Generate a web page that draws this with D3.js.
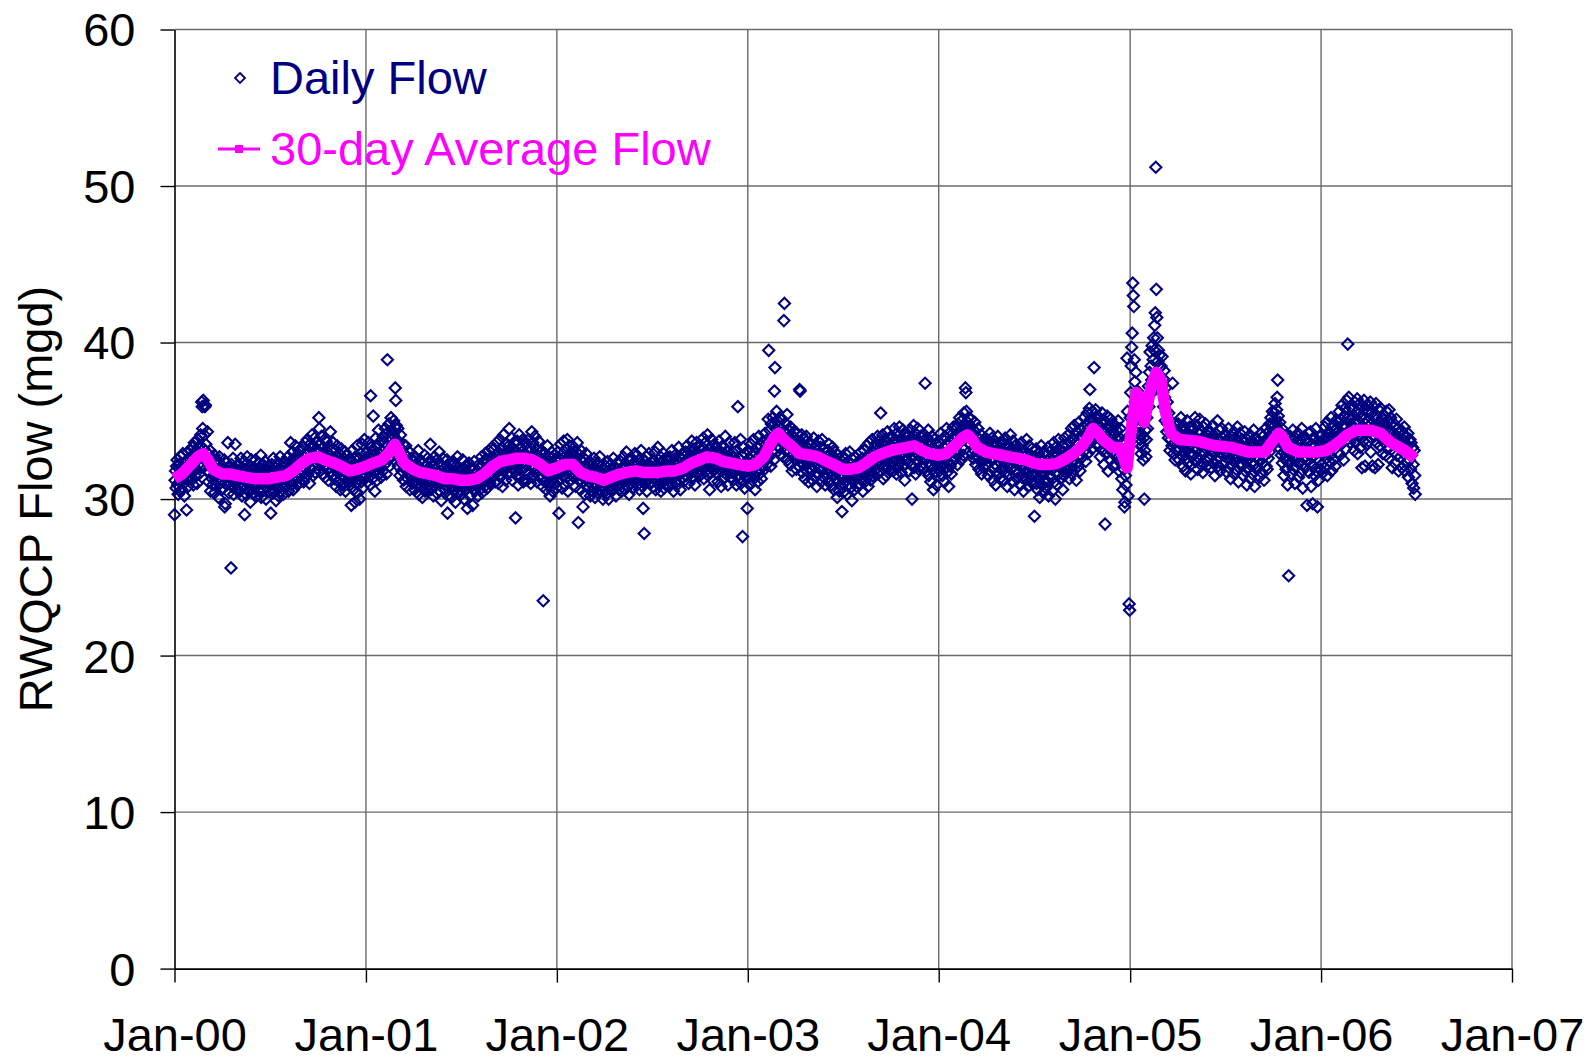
<!DOCTYPE html>
<html>
<head>
<meta charset="utf-8">
<script src="https://cdn.jsdelivr.net/npm/d3@7"></script>
<style>
  body { margin: 0; background: #fff; }
  text { font-family: "Liberation Sans", Arial, sans-serif; }
</style>
</head>
<body>
<div id="chart"></div>
<script>
var svgWidth = 1593;
var svgHeight = 1061;

var margin = {
  top: 29.5,
  right: 81,
  bottom: 92.4,
  left: 174.5
};

var width = svgWidth - margin.left - margin.right;
var height = svgHeight - margin.top - margin.bottom;

// axis ticks
var yTicks = [0, 10, 20, 30, 40, 50, 60];
var xTickDates = ["2000-01-01", "2001-01-01", "2002-01-01", "2003-01-01", "2004-01-01", "2005-01-01", "2006-01-01", "2007-01-01"];
var xTickLabels = ["Jan-00", "Jan-01", "Jan-02", "Jan-03", "Jan-04", "Jan-05", "Jan-06", "Jan-07"];

// daily flow, tenths of mgd, one string per month (Jan..Dec)
var flow2000 = [
  "290 312 318 307 321 325 309 303 316 322 311 305 327 318 306 314 329 320 310 302 317 324 313 293 319 330 308 322 326 315 331",
  "318 327 312 333 324 309 321 336 315 328 319 331 310 325 338 322 316 334 327 341 320 362 359 345 363 332 341 359 360",
  "335 324 318 343 329 311 322 317 331 305 320 326 313 309 321 315 328 304 319 312 325 308 316 322 301 314 327 310 318 306 320",
  "312 321 307 318 325 295 297 314 323 309 316 336 311 304 320 313 317 256 322 308 315 326 303 319 312 335 310 317 306 321",
  "318 309 322 313 305 317 326 311 302 320 315 308 324 290 316 312 303 319 327 310 314 306 321 317 298 313 325 309 318 304 316",
  "320 307 314 325 311 302 318 316 309 323 305 312 319 328 301 315 310 322 306 317 313 324 308 300 319 314 311 321 305 316",
  "309 318 291 315 322 307 313 326 304 317 311 320 299 314 308 323 316 302 319 312 327 305 315 321 310 318 303 324 313 309 317",
  "316 308 322 313 327 305 319 311 324 336 315 309 321 330 306 318 325 312 334 320 314 328 309 322 317 331 311 326 319 323 315",
  "325 318 333 311 327 320 336 314 329 322 338 316 331 324 310 335 327 319 332 341 321 315 334 328 339 317 330 323 336 326",
  "331 322 352 345 318 335 327 340 324 316 333 329 321 338 314 326 337 319 330 325 312 334 320 328 343 317 331 323 315 336 321",
  "326 313 331 320 308 327 334 317 324 311 329 321 306 318 332 315 323 309 326 319 314 330 305 322 316 328 311 320 313 325",
  "317 309 325 296 320 331 312 306 323 315 298 327 318 310 334 304 321 313 326 300 319 329 311 316 335 307 322 314 338 319 325"
];
var flow2001 = [
  "322 315 330 311 327 336 318 324 309 366 333 320 313 328 353 317 331 305 325 339 319 312 334 326 344 316 329 321 337 314 323",
  "331 318 340 325 336 322 345 329 316 342 389 334 326 348 321 339 331 352 327 344 335 341 350 332 346 371 363 347",
  "338 329 345 321 336 326 315 341 323 332 318 327 335 312 329 320 324 334 308 319 327 313 322 317 330 306 321 314 326 310 319",
  "324 311 318 306 327 315 320 309 322 314 331 303 317 312 325 308 319 316 301 323 313 310 328 305 318 321 307 315 326 312",
  "309 320 313 335 306 318 324 311 316 302 321 327 308 315 319 304 325 312 317 310 330 305 314 322 299 318 311 326 307 316 313",
  "320 306 314 309 325 291 317 312 303 319 315 322 308 301 316 311 324 305 318 313 298 321 309 315 327 304 312 317 306 319",
  "314 303 319 310 325 307 316 300 312 321 306 318 313 294 317 309 323 311 302 315 320 308 314 296 319 311 324 305 316 310 313",
  "309 318 302 315 322 311 306 320 313 327 304 317 310 324 316 308 329 319 312 325 307 321 315 331 318 310 326 322 314 333 320",
  "326 315 332 319 311 328 322 336 317 324 310 330 321 338 314 327 319 333 308 325 341 318 329 322 312 335 320 327 316 331",
  "334 345 322 317 330 325 339 312 328 320 336 318 331 288 324 315 337 322 309 329 341 319 326 333 314 330 323 338 311 327 320",
  "329 318 335 322 312 331 326 338 316 324 333 310 327 343 320 336 314 329 321 340 317 325 332 311 328 319 337 323 315 330",
  "326 313 331 319 308 235 322 317 329 311 324 306 320 334 315 309 327 318 302 323 312 330 316 305 321 314 328 310 319 325 307"
];
var flow2002 = [
  "324 311 330 317 291 326 320 335 313 322 307 329 318 337 315 324 309 332 321 314 338 305 327 319 334 312 325 316 330 320 328",
  "327 314 333 319 325 308 330 317 336 322 285 312 328 320 306 331 315 324 311 295 318 326 303 321 313 329 309 317",
  "320 307 316 311 324 302 318 313 309 322 305 317 326 310 301 315 319 308 323 312 304 318 311 327 306 314 321 309 316 300 319",
  "306 318 311 321 303 315 309 324 312 300 317 313 308 322 314 305 319 310 326 307 316 311 320 302 315 323 309 317 313 306",
  "318 309 324 313 305 320 316 327 311 319 306 322 314 330 308 317 312 325 303 319 315 321 310 326 313 307 318 323 312 329 316",
  "322 313 328 309 319 316 325 306 318 312 331 315 321 308 294 317 278 324 311 319 327 305 316 322 313 329 310 318 314 321",
  "311 323 316 308 325 313 319 330 306 317 322 312 333 315 309 320 314 327 305 318 324 311 316 329 307 321 313 326 318 310 322",
  "324 313 319 308 327 316 321 310 331 317 323 305 320 314 328 311 318 325 309 322 316 333 312 320 306 326 317 319 329 314 323",
  "318 327 312 330 321 315 334 319 326 310 323 331 316 328 322 337 313 325 318 332 320 309 329 324 336 317 326 321 333 315",
  "328 319 334 322 316 331 325 339 313 327 320 336 318 330 324 341 315 329 322 306 333 317 326 338 321 312 330 324 335 319 328",
  "322 333 316 328 311 325 337 319 330 323 308 327 318 334 321 313 329 324 340 316 326 320 331 309 325 336 317 322 328 314",
  "325 317 330 312 327 321 336 318 324 309 331 320 359 315 326 313 322 338 310 328 319 276 333 316 321 307 329 314 323 318 294"
];
var flow2003 = [
  "320 331 314 326 309 322 335 317 328 312 324 338 315 321 306 329 318 333 323 311 327 340 316 325 319 334 313 330 322 337 326",
  "331 319 342 326 335 322 338 329 351 395 327 344 333 321 348 336 330 352 339 325 369 384 345 337 356 341 350 334",
  "347 333 352 338 329 345 336 351 340 327 414 425 343 331 348 336 354 325 339 344 330 337 322 346 333 341 318 335 328 343 332",
  "339 325 334 319 342 330 327 336 321 370 369 332 324 341 317 335 328 322 338 313 331 326 340 318 333 323 311 329 336 320",
  "324 335 318 330 312 327 339 321 329 315 334 326 308 331 323 337 316 328 320 333 311 325 338 319 327 314 332 322 309 330 324",
  "327 316 331 320 335 312 325 318 329 309 322 333 315 326 306 321 330 313 324 317 301 328 311 319 305 323 316 314 308 292",
  "321 310 326 314 305 318 329 312 320 303 316 324 309 317 330 307 322 313 299 319 325 311 316 306 327 314 320 308 323 315 318",
  "316 324 309 321 330 313 318 326 305 322 317 331 311 325 319 334 314 327 308 323 336 318 329 312 326 321 338 315 330 324 333",
  "327 335 319 331 324 340 316 329 337 322 333 355 318 330 326 341 313 334 321 338 328 315 336 324 343 320 331 327 339 318",
  "334 322 340 327 336 318 331 345 325 338 329 316 342 333 320 337 328 346 323 335 317 339 330 326 344 321 336 312 341 328 334",
  "336 325 341 329 318 338 331 344 322 335 300 339 327 347 320 333 342 316 330 337 324 345 328 319 336 332 340 321 334 326",
  "329 337 320 334 341 374 325 332 318 339 327 344 315 330 322 336 311 328 340 319 333 306 326 338 317 331 323 309 335 320 327"
];
var flow2004 = [
  "325 336 318 331 342 322 329 315 338 326 333 311 340 320 327 345 317 334 324 308 337 329 321 343 316 332 339 324 346 330 335",
  "338 326 345 331 340 322 348 335 329 352 337 344 325 350 333 341 328 355 339 346 371 368 356 343 349 336 352 340 345",
  "347 335 351 329 342 338 326 344 331 349 336 322 340 333 327 345 330 319 338 334 324 341 316 332 328 337 320 335 325 339 330",
  "333 322 338 327 315 336 329 342 318 331 325 339 312 334 326 320 337 330 309 328 335 321 340 317 332 324 313 336 327 319",
  "331 320 336 324 312 329 339 317 333 326 308 335 322 330 315 327 341 319 332 311 325 337 321 328 306 334 318 326 330 313 323",
  "328 317 333 321 309 326 336 314 330 322 305 331 319 327 312 324 338 316 329 308 323 334 318 325 311 320 332 315 326 310",
  "318 289 327 315 332 310 324 306 321 329 313 301 326 317 334 309 320 325 304 316 330 312 323 307 328 319 311 333 302 322 315",
  "326 314 331 319 305 328 322 336 311 324 300 333 317 329 309 325 338 316 321 331 313 327 319 334 306 323 330 315 339 320 326",
  "322 334 318 329 341 325 313 337 328 320 345 316 332 339 324 347 319 330 336 312 343 327 335 321 349 333 318 340 326 344",
  "339 327 346 334 352 331 341 324 348 337 355 329 345 340 358 370 336 351 343 332 356 347 339 384 350 344 357 335 353 342 348",
  "346 334 352 339 327 349 341 355 331 344 336 322 350 284 343 337 329 353 340 318 347 333 345 325 351 338 330 344 321 348",
  "341 329 347 335 322 344 338 326 350 332 318 339 345 324 331 313 336 306 327 319 295 298 315 309 330 390 356 302 340 233 229"
];
var flow2005 = [
  "352 368 385 397 406 438 430 423 389 375 362 381 356 347 369 342 358 335 351 338 346 329 341 334 352 325 339 300 331 344 327",
  "338 352 345 366 372 359 381 394 367 385 376 398 370 389 403 395 411 419 512 434 416 403 388 395 379 392 384 371",
  "385 372 391 368 377 359 382 365 350 371 356 343 362 348 339 355 344 331 350 338 347 334 374 342 329 348 336 325 344 332 339",
  "343 331 348 336 325 342 339 352 328 345 334 321 347 337 330 344 318 339 326 350 333 323 341 329 346 335 316 338 327 344",
  "340 328 345 333 352 324 338 331 347 319 336 342 326 351 334 322 343 330 339 317 346 329 337 325 348 332 321 341 335 327 344",
  "338 326 343 331 320 340 335 347 323 336 329 315 342 332 325 338 350 321 334 327 344 318 337 330 345 322 339 328 333 341",
  "336 324 341 329 317 338 333 345 320 334 326 313 340 331 322 337 328 343 316 335 325 339 319 332 346 327 311 336 330 342 323",
  "333 321 338 326 315 336 330 343 318 332 324 309 338 328 320 335 326 341 313 331 323 337 316 329 344 322 308 334 327 339 319",
  "332 320 337 325 314 335 329 342 317 331 323 340 327 312 336 328 345 321 333 319 338 326 343 330 348 334 352 339 345 356",
  "348 336 355 342 361 350 339 357 365 376 353 344 337 349 332 341 328 345 323 338 330 315 334 326 340 319 331 324 309 336 251",
  "335 323 340 328 316 337 331 344 319 333 325 310 339 328 321 336 327 342 314 332 324 338 317 330 345 322 307 334 326 340",
  "333 320 338 325 296 336 329 342 317 331 323 343 308 335 327 297 339 321 334 315 330 345 318 326 295 337 312 333 324 340 319"
];
var flow2006 = [
  "336 322 341 329 317 338 333 346 320 334 326 349 315 339 331 343 324 337 328 352 318 340 333 347 325 338 344 321 350 336 342",
  "345 330 349 337 356 328 342 351 335 360 339 347 325 353 341 358 332 346 363 338 399 352 365 344 336 359 348 340",
  "352 339 358 345 331 362 348 336 355 342 364 329 350 357 340 361 333 353 346 320 359 344 337 363 351 321 348 356 335 360 343",
  "350 337 356 343 362 330 348 355 321 345 359 340 352 320 347 361 336 353 344 322 357 341 349 334 358 345 338 352 329 347",
  "348 336 353 341 328 356 345 332 350 339 357 326 344 352 337 343 320 349 335 330 346 323 341 336 351 328 339 345 318 337 342",
  "338 327 344 332 320 341 335 329 346 318 336 331 340 323 334 342 314 330 325 338 319 336 328 310 333 322 307 331 315 303"
];
var flowYears = [2000, 2001, 2002, 2003, 2004, 2005, 2006];
var flowByYear = [flow2000, flow2001, flow2002, flow2003, flow2004, flow2005, flow2006];

// 30-day average flow (mgd)
var avgDates = [
  "2000-01-01", "2000-01-15", "2000-02-01", "2000-02-15", "2000-02-25", "2000-03-05", "2000-03-15", "2000-04-01", "2000-04-15", "2000-05-01",
  "2000-05-15", "2000-06-01", "2000-06-15", "2000-07-01", "2000-07-15", "2000-08-01", "2000-08-15", "2000-09-01", "2000-09-15", "2000-10-01",
  "2000-10-15", "2000-11-01", "2000-11-15", "2000-12-01", "2000-12-15",
  "2001-01-01", "2001-01-15", "2001-02-01", "2001-02-15", "2001-02-25", "2001-03-05", "2001-03-15", "2001-04-01", "2001-04-15", "2001-05-01",
  "2001-05-15", "2001-06-01", "2001-06-15", "2001-07-01", "2001-07-15", "2001-08-01", "2001-08-15", "2001-09-01", "2001-09-15", "2001-10-01",
  "2001-10-15", "2001-11-01", "2001-11-15", "2001-12-01", "2001-12-15",
  "2002-01-01", "2002-01-15", "2002-02-01", "2002-02-15", "2002-03-01", "2002-03-15", "2002-04-01", "2002-04-15", "2002-05-01", "2002-05-15",
  "2002-06-01", "2002-06-15", "2002-07-01", "2002-07-15", "2002-08-01", "2002-08-15", "2002-09-01", "2002-09-15", "2002-10-01", "2002-10-15",
  "2002-11-01", "2002-11-15", "2002-12-01", "2002-12-15",
  "2003-01-01", "2003-01-15", "2003-02-01", "2003-02-10", "2003-02-20", "2003-03-01", "2003-03-10", "2003-03-25", "2003-04-10", "2003-05-01",
  "2003-05-15", "2003-06-01", "2003-06-15", "2003-07-01", "2003-07-15", "2003-08-01", "2003-08-15", "2003-09-01", "2003-09-15", "2003-10-01",
  "2003-10-15", "2003-11-01", "2003-11-15", "2003-12-01", "2003-12-15",
  "2004-01-01", "2004-01-15", "2004-02-01", "2004-02-15", "2004-02-25", "2004-03-05", "2004-03-15", "2004-04-01", "2004-04-15", "2004-05-01",
  "2004-05-15", "2004-06-01", "2004-06-15", "2004-07-01", "2004-07-15", "2004-08-01", "2004-08-15", "2004-09-01", "2004-09-15", "2004-10-01",
  "2004-10-12", "2004-10-22", "2004-11-01", "2004-11-10", "2004-11-29", "2004-12-12", "2004-12-20", "2004-12-26",
  "2005-01-05", "2005-01-13", "2005-01-20", "2005-01-28", "2005-02-10", "2005-02-20", "2005-03-01", "2005-03-10", "2005-03-20", "2005-04-05",
  "2005-05-10", "2005-06-01", "2005-06-15", "2005-07-15", "2005-08-15", "2005-09-15", "2005-09-28", "2005-10-12", "2005-10-18", "2005-10-30",
  "2005-11-20", "2005-12-22",
  "2006-01-10", "2006-01-25", "2006-02-10", "2006-02-20", "2006-03-10", "2006-04-05", "2006-04-25", "2006-05-15", "2006-06-10", "2006-06-30"
];
var avgValues = [
  31.3, 31.6, 32.2, 32.7, 32.9, 32.5, 31.9, 31.6, 31.6, 31.5,
  31.4, 31.3, 31.3, 31.3, 31.4, 31.5, 31.8, 32.3, 32.6, 32.7,
  32.5, 32.3, 32.1, 31.8, 31.9,
  32.1, 32.3, 32.5, 33.0, 33.5, 33.0, 32.3, 31.9, 31.7, 31.6,
  31.5, 31.3, 31.3, 31.2, 31.2, 31.3, 31.6, 32.1, 32.4, 32.5,
  32.6, 32.6, 32.5, 32.2, 31.8,
  32.0, 32.2, 32.2, 31.7, 31.5, 31.4, 31.2, 31.4, 31.6, 31.7,
  31.8, 31.7, 31.7, 31.7, 31.8, 31.8, 32.0, 32.3, 32.5, 32.7,
  32.6, 32.4, 32.3, 32.2,
  32.1, 32.2, 32.7, 33.3, 33.9, 34.2, 33.8, 33.4, 32.9, 32.8,
  32.7, 32.4, 32.2, 31.9, 31.9, 32.0, 32.3, 32.7, 32.9, 33.1,
  33.2, 33.3, 33.4, 33.1, 32.9,
  32.8, 32.9, 33.4, 33.9, 34.1, 33.8, 33.3, 33.0, 32.9, 32.8,
  32.7, 32.6, 32.5, 32.3, 32.2, 32.2, 32.3, 32.6, 32.9, 33.4,
  33.9, 34.5, 34.2, 33.8, 33.3, 33.3, 32.6, 32.0,
  35.0, 36.8, 36.5, 34.9, 37.2, 38.1, 37.6, 35.5, 34.2, 33.8,
  33.7, 33.5, 33.4, 33.3, 33.0, 33.0, 33.6, 34.2, 34.0, 33.3,
  33.0, 33.0,
  33.1, 33.4, 33.8, 34.1, 34.4, 34.4, 34.2, 33.6, 33.1, 32.6
];

var parseDate = d3.timeParse("%Y-%m-%d");

// build daily records from the month strings
var dailyData = [];
flowByYear.forEach(function(months, yi) {
  months.forEach(function(str, m) {
    str.trim().split(/\s+/).forEach(function(v, i) {
      dailyData.push({ date: new Date(flowYears[yi], m, i + 1), flow: +v / 10 });
    });
  });
});

var avgData = avgDates.map(function(d, i) {
  return { date: parseDate(d), flow: avgValues[i] };
});

var svg = d3.select("#chart")
  .append("svg")
  .attr("width", svgWidth)
  .attr("height", svgHeight);

var chartGroup = svg.append("g")
  .attr("transform", `translate(${margin.left}, ${margin.top})`);

var xTimeScale = d3.scaleTime()
  .domain([parseDate("2000-01-01"), parseDate("2007-01-01")])
  .range([0, width]);

var yLinearScale = d3.scaleLinear()
  .domain([0, 60])
  .range([height, 0]);

var gridColor = "#6a6a6a";
var fontSize = "47px";

// horizontal gridlines (top one doubles as the frame)
chartGroup.append("g")
  .selectAll("line")
  .data(yTicks.filter(d => d > 0))
  .enter()
  .append("line")
  .attr("x1", 0)
  .attr("x2", width)
  .attr("y1", d => yLinearScale(d))
  .attr("y2", d => yLinearScale(d))
  .attr("stroke", gridColor)
  .attr("stroke-width", 1.4);

// vertical gridlines
chartGroup.append("g")
  .selectAll("line")
  .data(xTickDates.slice(1))
  .enter()
  .append("line")
  .attr("x1", d => xTimeScale(parseDate(d)))
  .attr("x2", d => xTimeScale(parseDate(d)))
  .attr("y1", 0)
  .attr("y2", height)
  .attr("stroke", gridColor)
  .attr("stroke-width", 1.4);

// axes
var leftAxis = d3.axisLeft(yLinearScale)
  .tickValues(yTicks)
  .tickSize(14)
  .tickSizeOuter(0)
  .tickPadding(25);

var bottomAxis = d3.axisBottom(xTimeScale)
  .tickValues(xTickDates.map(parseDate))
  .tickFormat((d, i) => xTickLabels[i])
  .tickSize(14)
  .tickSizeOuter(0)
  .tickPadding(35);

var yAxis = chartGroup.append("g").call(leftAxis);
var xAxis = chartGroup.append("g")
  .attr("transform", `translate(0, ${height})`)
  .call(bottomAxis);

[yAxis, xAxis].forEach(function(ax) {
  ax.selectAll("path").attr("stroke", "#000").attr("stroke-width", 1.6);
  ax.selectAll("line").attr("stroke", "#000").attr("stroke-width", 1.4);
  ax.selectAll("text")
    .attr("fill", "#000")
    .style("font-size", fontSize)
    .style("font-family", "'Liberation Sans', Arial, sans-serif");
});
yAxis.selectAll("text").attr("dy", "0.35em");

// daily flow diamonds
var diamond = "M0,-5.6L5.6,0L0,5.6L-5.6,0Z";

chartGroup.append("g")
  .selectAll("path")
  .data(dailyData)
  .enter()
  .append("path")
  .attr("d", diamond)
  .attr("transform", d => `translate(${xTimeScale(d.date)}, ${yLinearScale(d.flow)})`)
  .attr("fill", "none")
  .attr("stroke", "#000080")
  .attr("stroke-width", 2.1);

// 30-day average line
var avgLine = d3.line()
  .x(d => xTimeScale(d.date))
  .y(d => yLinearScale(d.flow));

chartGroup.append("path")
  .datum(avgData)
  .attr("d", avgLine)
  .attr("fill", "none")
  .attr("stroke", "#ff00ff")
  .attr("stroke-width", 11.5)
  .attr("stroke-linejoin", "round");

// y axis title
svg.append("text")
  .attr("transform", `translate(52, ${margin.top + height / 2}) rotate(-90)`)
  .attr("text-anchor", "middle")
  .style("font-size", fontSize)
  .attr("fill", "#000")
  .text("RWQCP Flow (mgd)");

// legend
var legend = svg.append("g");

legend.append("path")
  .attr("d", "M0,-5L5,0L0,5L-5,0Z")
  .attr("transform", "translate(240, 78)")
  .attr("fill", "none")
  .attr("stroke", "#000080")
  .attr("stroke-width", 1.8);

legend.append("text")
  .attr("x", 270)
  .attr("y", 78)
  .attr("dy", "0.35em")
  .attr("fill", "#000080")
  .style("font-size", fontSize)
  .text("Daily Flow");

legend.append("line")
  .attr("x1", 218)
  .attr("x2", 260)
  .attr("y1", 149)
  .attr("y2", 149)
  .attr("stroke", "#ff00ff")
  .attr("stroke-width", 3);

legend.append("rect")
  .attr("x", 235)
  .attr("y", 145)
  .attr("width", 8)
  .attr("height", 8)
  .attr("fill", "#ff00ff");

legend.append("text")
  .attr("x", 270)
  .attr("y", 149)
  .attr("dy", "0.35em")
  .attr("fill", "#ff00ff")
  .style("font-size", fontSize)
  .text("30-day Average Flow");
</script>
</body>
</html>
